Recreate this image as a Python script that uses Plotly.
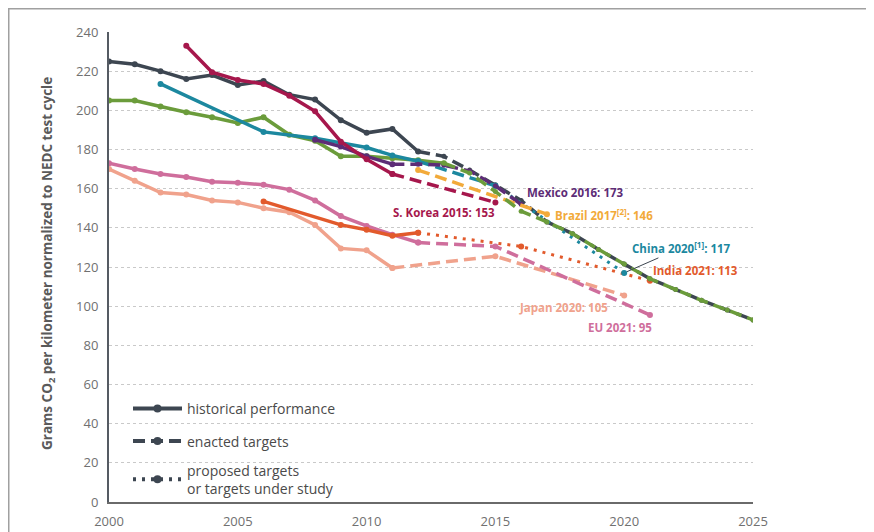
import plotly.graph_objects as go

# ---------------- data ----------------
us_hist_years = list(range(2000, 2013))
us_hist = [225, 223.5, 220, 216, 218, 213, 215, 208, 205.5, 195, 188.5, 190.5, 179]
us_tgt_years = list(range(2012, 2026))
us_tgt = [179, 176.5, 169.5, 162, 154, 143, 137, 129, 121.5, 114, 108.5, 103, 98, 93]

ca_hist_years = list(range(2000, 2014))
ca_hist = [205, 205, 202, 199, 196.5, 193.5, 196.5, 187.5, 184.5, 176.5, 176.5, 175.5, 174.5, 173]
ca_tgt_years = list(range(2013, 2026))
ca_tgt = [173, 168, 158.5, 148.5, 143, 137, 129, 121.5, 114, 108.5, 103, 98, 93]

cn_hist_years = [2002, 2006, 2008, 2010, 2011, 2012]
cn_hist = [213.5, 189, 185.7, 181, 177, 174]
cn_tgt_years = [2012, 2015]
cn_tgt = [174, 161.5]
cn_prop_years = [2015, 2020]
cn_prop = [161.5, 117]

kr_hist_years = list(range(2003, 2012))
kr_hist = [233, 219.5, 215.5, 213.5, 207.5, 199.5, 184, 175, 167.5]
kr_tgt_years = [2011, 2015]
kr_tgt = [167.5, 153]

mx_hist_years = [2008, 2009, 2010, 2011]
mx_hist = [185, 181.5, 176.5, 172.5]
mx_tgt_years = [2011, 2012, 2013, 2014, 2015, 2016]
mx_tgt = [172.5, 172.5, 172, 169, 161.5, 152]

br_tgt_years = [2012, 2017]
br_tgt = [169.5, 147]

in_hist_years = [2006, 2009, 2010, 2011, 2012]
in_hist = [153.5, 141.5, 139, 136, 137.5]
in_prop_years = [2012, 2016, 2021]
in_prop = [137.5, 130.5, 113]

eu_hist_years = list(range(2000, 2013))
eu_hist = [173, 170, 167.5, 166, 163.5, 163, 162, 159.5, 154, 146, 141, 136.5, 132.5]
eu_tgt_years = [2012, 2015, 2021]
eu_tgt = [132.5, 130.5, 95.5]

jp_hist_years = list(range(2000, 2012))
jp_hist = [170, 164, 158, 157, 154, 153, 150, 148, 141.5, 129.5, 128.5, 119.5]
jp_tgt_years = [2011, 2015, 2020]
jp_tgt = [119.5, 125.5, 105.5]

x_ticks = [2000, 2005, 2010, 2015, 2020, 2025]
y_ticks = list(range(0, 241, 20))

# ---------------- styles ----------------
C_US = "#3d4651"
C_CA = "#6b9c3b"
C_CN = "#1c889f"
C_KR = "#a6174c"
C_MX = "#5d2c76"
C_BR = "#f2aa3a"
C_IN = "#e25a2c"
C_EU = "#cf6e9c"
C_JP = "#f0a28c"

FONT = "Open Sans"
LW = 3.5
DASH = "12px,6px"
DOT = "3px,6px"

# page body has an 8px margin: figure is offset by (8, 8) in the window
OFF = 8
W, H = 874 - OFF, 532 - OFF
ML, MR, MT, MB = 109 - OFF, 121, 32 - OFF, 30
PW, PH = W - ML - MR, H - MT - MB

fig = go.Figure()


def add(xs, ys, color, kind, msize=6):
    if kind == "hist":
        line = dict(color=color, width=LW)
    elif kind == "tgt":
        line = dict(color=color, width=LW, dash=DASH)
    else:
        line = dict(color=color, width=3, dash=DOT)
    fig.add_trace(go.Scatter(x=xs, y=ys, mode="lines+markers", line=line,
                             marker=dict(size=msize, color=color),
                             showlegend=False, hoverinfo="x+y"))


# lower group
add(jp_hist_years, jp_hist, C_JP, "hist")
add(jp_tgt_years, jp_tgt, C_JP, "tgt")
add(eu_hist_years, eu_hist, C_EU, "hist")
add(eu_tgt_years, eu_tgt, C_EU, "tgt")
add(in_hist_years, in_hist, C_IN, "hist")
add(in_prop_years, in_prop, C_IN, "prop")

# upper group
add(us_hist_years, us_hist, C_US, "hist")
add(us_tgt_years, us_tgt, C_US, "tgt", 5)
add(ca_hist_years, ca_hist, C_CA, "hist")
add(cn_hist_years, cn_hist, C_CN, "hist")
add(cn_tgt_years, cn_tgt, C_CN, "tgt")
add(cn_prop_years, cn_prop, C_CN, "prop")
add(mx_hist_years, mx_hist, C_MX, "hist")
add(mx_tgt_years, mx_tgt, C_MX, "tgt", 5)
add(br_tgt_years, br_tgt, C_BR, "tgt")
add(kr_hist_years, kr_hist, C_KR, "hist")
add(kr_tgt_years, kr_tgt, C_KR, "tgt")
add(ca_tgt_years, ca_tgt, C_CA, "tgt", 5)

# legend entries
legend_items = [("historical performance", "solid", "legend"),
                ("enacted targets", DASH, "legend2"),
                ("proposed targets<br>or targets under study", DOT, "legend3")]
for name, dash, lg in legend_items:
    fig.add_trace(go.Scatter(x=[None], y=[None], mode="lines+markers", name=name,
                             line=dict(color=C_US, width=4, dash=dash),
                             marker=dict(size=8, color=C_US), legend=lg))


# ---------------- layout helpers (window pixel -> data / paper) ----------------
def X(px):
    return 2000 + (px - 109) * 25 / 644


def Y(py):
    return (502 - py) * 240 / 470


def PX(px):
    return (px - 109) / PW


def PY(py):
    return (502 - py) / PH


labels = [
    ("Mexico 2016: 173", 525, 192.5, C_MX),
    ("Brazil 2017<sup>[2]</sup>: 146", 553, 214, C_BR),
    ("S. Korea 2015: 153", 391, 212.5, C_KR),
    ("India 2021: 113", 651, 270, C_IN),
    ("Japan 2020: 105", 517, 307, C_JP),
    ("EU 2021: 95", 586, 327, C_EU),
    ("US 2025<sup>[2]</sup>:93", 760, 315, "#4a515b"),
    ("Canada 2025:93", 760, 331, C_CA),
]
annotations = []
for text, px, py, col in labels:
    annotations.append(dict(x=X(px), y=Y(py), xref="x", yref="y", text=text,
                            showarrow=False, xanchor="left", yanchor="middle",
                            font=dict(family=FONT, size=11.5, color=col, weight="bold")))
# China label with leader line
annotations.append(dict(x=2020, y=117, xref="x", yref="y",
                        text="China 2020<sup>[1]</sup>: 117",
                        showarrow=True, arrowhead=0, arrowwidth=1, arrowcolor=C_US,
                        ax=57, ay=-25, standoff=3,
                        font=dict(family=FONT, size=11.5, color=C_CN, weight="bold")))
# y-axis title
annotations.append(dict(x=PX(48), y=PY(264), xref="paper", yref="paper",
                        xanchor="center", yanchor="middle",
                        text="Grams CO<sub>2</sub> per kilometer normalized to NEDC test cycle",
                        textangle=-90, showarrow=False,
                        font=dict(family=FONT, size=13.5, color="#5a5a5a", weight="bold")))

leg_common = dict(xanchor="left", yanchor="middle", bgcolor="rgba(0,0,0,0)",
                  font=dict(family=FONT, size=14, color="#4a4a4a"), itemwidth=49,
                  tracegroupgap=0)

fig.update_layout(
    width=W, height=H,
    margin=dict(l=ML, r=MR, t=MT, b=MB, autoexpand=False),
    paper_bgcolor="white", plot_bgcolor="white",
    font=dict(family=FONT, color="#6d6d6d"),
    xaxis=dict(range=[2000, 2025], tickvals=x_ticks, showgrid=False, zeroline=False,
               showline=True, linecolor="#6a6a6a", linewidth=2, ticks="",
               tickfont=dict(family=FONT, size=13, color="#707070"),
               ticklabelstandoff=6, automargin=False),
    yaxis=dict(range=[0, 240], tickvals=y_ticks, showgrid=True, gridcolor="#c9c9c9",
               griddash="dot", gridwidth=1, zeroline=False,
               showline=True, linecolor="#555b63", linewidth=2, ticks="",
               tickfont=dict(family=FONT, size=13, color="#707070"),
               ticklabelstandoff=6, automargin=False),
    annotations=annotations,
    legend=dict(x=PX(128), y=PY(409), **leg_common),
    legend2=dict(x=PX(128), y=PY(441.5), **leg_common),
    legend3=dict(x=PX(128), y=PY(479.5), **leg_common),
    shapes=[dict(type="rect", xref="paper", yref="paper",
                 x0=PX(8.75), x1=PX(900), y0=PY(560), y1=PY(8.75),
                 line=dict(color="#a0a0a0", width=1.5), layer="below")],
    showlegend=True,
)

fig.write_html("out.html")
